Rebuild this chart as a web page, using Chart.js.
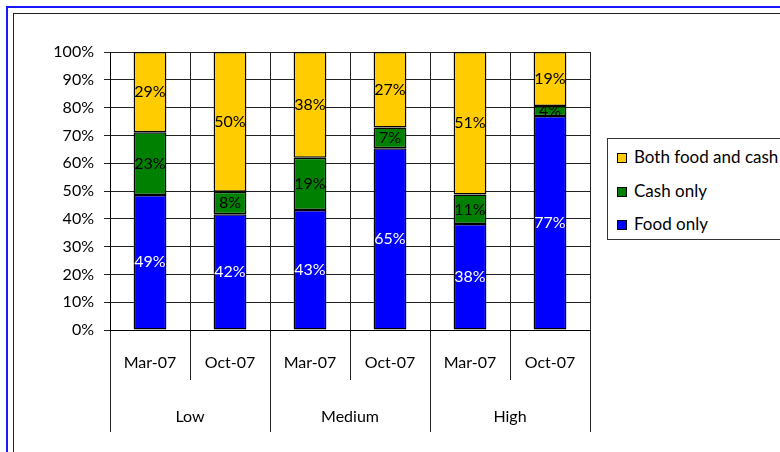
<!DOCTYPE html>
<html>
<head>
<meta charset="utf-8">
<script src="https://cdn.jsdelivr.net/npm/chart.js@4"></script>
<style>
  html, body { margin: 0; padding: 0; background: #fff; overflow: hidden; }
  body { width: 780px; height: 452px; position: relative; font-family: Lato, "Open Sans", sans-serif; }
  #outer { position: absolute; left: 6px; top: 6px; width: 900px; height: 600px; border: 2px solid #1a1aff; }
  #inner { position: absolute; left: 13px; top: 13px; width: 900px; height: 600px; border: 1px solid #222; }
  #wrap { position: absolute; left: 14px; top: 14px; width: 766px; height: 438px; }
  #legend { position: absolute; left: 607px; top: 138px; width: 220px; height: 100px; border: 1px solid #333; background: #fff; }
  .item { position: absolute; left: 9px; height: 18px; line-height: 18px; font-size: 17px; color: #000; white-space: nowrap; }
  .item span.sw { position: absolute; left: 0; top: 4px; width: 8px; height: 8px; border: 1px solid #000; }
  .item span.tx { position: absolute; left: 17px; top: -1px; }
</style>
</head>
<body>
<div id="outer"></div>
<div id="inner"></div>
<div id="wrap"><canvas id="chart"></canvas></div>
<div id="legend"></div>
<script>
// Datos del gráfico (porcentajes)
const periods = ['Mar-07', 'Oct-07'];
const groups = ['Low', 'Medium', 'High'];
const foodOnly = [48.6, 41.6, 43.2, 65.4, 38.1, 77.0];
const cashOnly = [22.5, 8.1, 18.8, 7.4, 10.6, 3.6];
const bothFoodCash = [28.9, 50.3, 38.0, 27.2, 51.3, 19.4];
const yTicks = [0, 10, 20, 30, 40, 50, 60, 70, 80, 90, 100];

const categories = [];
groups.forEach(() => periods.forEach(p => categories.push(p)));

const FONT = 'Lato, "Open Sans", sans-serif';

// Etiquetas dentro de cada segmento
const segmentLabels = {
  id: 'segmentLabels',
  afterDatasetsDraw(chart) {
    const ctx = chart.ctx;
    ctx.save();
    ctx.font = '16px ' + FONT;
    ctx.textAlign = 'center';
    ctx.textBaseline = 'middle';
    chart.data.datasets.forEach((ds, i) => {
      chart.getDatasetMeta(i).data.forEach((bar, j) => {
        const y = (bar.y + bar.base) / 2;
        ctx.fillStyle = ds.labelColor;
        ctx.fillText(Math.round(ds.data[j]) + '%', bar.x, y);
      });
    });
    ctx.restore();
  }
};

const chart = new Chart(document.getElementById('chart'), {
  type: 'bar',
  data: {
    labels: categories,
    datasets: [
      { label: 'Food only', data: foodOnly, backgroundColor: '#0000ff', labelColor: '#fff' },
      { label: 'Cash only', data: cashOnly, backgroundColor: '#008000', labelColor: '#000' },
      { label: 'Both food and cash', data: bothFoodCash, backgroundColor: '#ffcc00', labelColor: '#000' }
    ]
  },
  options: {
    responsive: true,
    maintainAspectRatio: false,
    animation: false,
    layout: { padding: { top: 38, right: 190, bottom: 20, left: 0 } },
    datasets: {
      bar: {
        borderColor: '#000',
        borderWidth: 1.5,
        borderSkipped: false,
        categoryPercentage: 1,
        barPercentage: 0.41
      }
    },
    plugins: {
      legend: { display: false },
      tooltip: { enabled: false }
    },
    scales: {
      x: {
        stacked: true,
        weight: 0,
        offset: true,
        grid: { offset: true, color: '#222', tickLength: 50 },
        border: { color: '#000' },
        ticks: { color: '#000', font: { family: FONT, size: 16 }, padding: -27, maxRotation: 0, autoSkip: false },
        afterFit: s => { s.height = 50; }
      },
      x2: {
        type: 'category',
        position: 'bottom',
        labels: groups,
        weight: 1,
        offset: true,
        grid: { offset: true, drawOnChartArea: false, color: '#222', tickLength: 52 },
        border: { display: false },
        ticks: { color: '#000', font: { family: FONT, size: 16 }, padding: -25, maxRotation: 0 },
        afterFit: s => { s.height = 52; }
      },
      y: {
        stacked: true,
        min: 0,
        max: 100,
        grid: { color: '#222', tickLength: 6 },
        border: { color: '#000' },
        afterBuildTicks: s => { s.ticks = yTicks.map(v => ({ value: v })); },
        ticks: {
          color: '#000',
          font: { family: FONT, size: 16 },
          padding: 10,
          callback: v => v + '%'
        },
        afterFit: s => { s.width = 96; }
      }
    }
  },
  plugins: [segmentLabels]
});

// Leyenda con borde (orden inverso al apilado)
const legend = document.getElementById('legend');
const tops = [10, 44, 77];
chart.data.datasets.slice().reverse().forEach((ds, i) => {
  const item = document.createElement('div');
  item.className = 'item';
  item.style.top = tops[i] + 'px';
  item.innerHTML = '<span class="sw" style="background:' + ds.backgroundColor + '"></span><span class="tx">' + ds.label + '</span>';
  legend.appendChild(item);
});
</script>
</body>
</html>
